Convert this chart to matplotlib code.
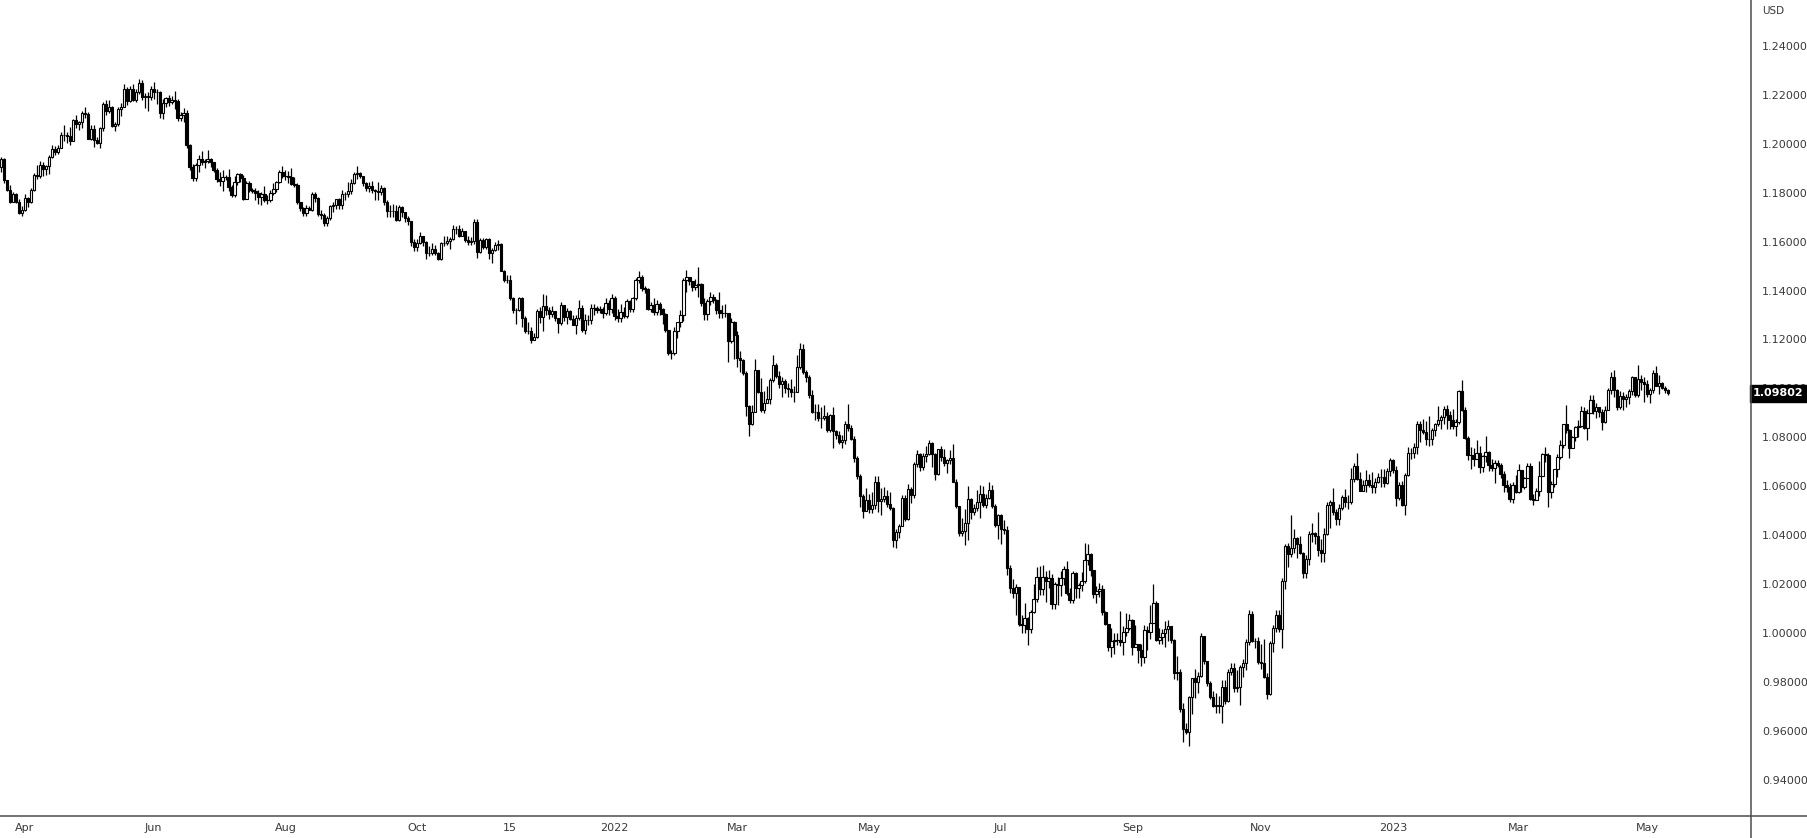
import numpy as np
import pandas as pd
import matplotlib
matplotlib.use('Agg')
import matplotlib.pyplot as plt
from matplotlib.lines import Line2D

# EUR/USD daily candles, weekdays 22 Mar 2021 .. 10 May 2023
start_date = '2021-03-22'
end_date = '2023-05-10'
first_open = 1.1904

close_px = [
    1.1938, 1.1852, 1.1812, 1.1763, 1.1795, 1.1764, 1.1718, 1.1730,  # Mar 21
    1.1778, 1.1762, 1.1813, 1.1873, 1.1870, 1.1915, 1.1899, 1.1911, 1.1947, 1.1981, 1.1966,
    1.1983, 1.2037, 1.2035, 1.2034, 1.2013, 1.2097, 1.2080, 1.2089, 1.2126, 1.2124, 1.2020,  # Apr
    1.2061, 1.2014, 1.2004, 1.2067, 1.2165, 1.2133, 1.2149, 1.2075, 1.2080, 1.2144, 1.2152,
    1.2223, 1.2175, 1.2226, 1.2179, 1.2213, 1.2250, 1.2193, 1.2194, 1.2193, 1.2226,  # May
    1.2213, 1.2212, 1.2128, 1.2166, 1.2189, 1.2173, 1.2178, 1.2174, 1.2107, 1.2120, 1.2125,
    1.1996, 1.1907, 1.1859, 1.1914, 1.1940, 1.1926, 1.1930, 1.1937, 1.1925, 1.1894, 1.1857,  # Jun
    1.1849, 1.1865, 1.1866, 1.1823, 1.1791, 1.1845, 1.1875, 1.1861, 1.1776, 1.1838, 1.1812,
    1.1807, 1.1800, 1.1782, 1.1794, 1.1771, 1.1771, 1.1801, 1.1815, 1.1843, 1.1887, 1.1870,  # Jul
    1.1870, 1.1866, 1.1836, 1.1833, 1.1761, 1.1736, 1.1718, 1.1739, 1.1729, 1.1795, 1.1779,
    1.1712, 1.1710, 1.1676, 1.1697, 1.1745, 1.1752, 1.1773, 1.1750, 1.1794, 1.1796, 1.1808,  # Aug
    1.1838, 1.1875, 1.1880, 1.1870, 1.1838, 1.1818, 1.1826, 1.1813, 1.1806, 1.1804, 1.1818,
    1.1764, 1.1725, 1.1727, 1.1724, 1.1689, 1.1740, 1.1720, 1.1696, 1.1683, 1.1597, 1.1579,  # Sep
    1.1595, 1.1622, 1.1597, 1.1553, 1.1553, 1.1569, 1.1552, 1.1528, 1.1594, 1.1595, 1.1601,
    1.1609, 1.1653, 1.1653, 1.1623, 1.1644, 1.1608, 1.1599, 1.1604, 1.1681, 1.1558,  # Oct
    1.1606, 1.1580, 1.1613, 1.1554, 1.1567, 1.1587, 1.1591, 1.1480, 1.1445, 1.1445, 1.1369,
    1.1319, 1.1321, 1.1371, 1.1288, 1.1236, 1.1234, 1.1197, 1.1209, 1.1317, 1.1292, 1.1337,  # Nov
    1.1321, 1.1303, 1.1315, 1.1286, 1.1266, 1.1343, 1.1291, 1.1318, 1.1284, 1.1258, 1.1287, 1.1330,
    1.1238, 1.1280, 1.1279, 1.1330, 1.1327, 1.1320, 1.1326, 1.1310, 1.1350, 1.1325, 1.1370,  # Dec
    1.1297, 1.1287, 1.1312, 1.1297, 1.1359, 1.1326, 1.1368, 1.1442, 1.1455, 1.1412, 1.1406,
    1.1324, 1.1343, 1.1311, 1.1345, 1.1324, 1.1303, 1.1239, 1.1144, 1.1146, 1.1235,  # Jan 22
    1.1271, 1.1301, 1.1442, 1.1455, 1.1440, 1.1414, 1.1424, 1.1426, 1.1348, 1.1306,
    1.1357, 1.1374, 1.1360, 1.1322, 1.1308, 1.1308, 1.1307, 1.1195, 1.1271, 1.1218,  # Feb
    1.1124, 1.1117, 1.1063, 1.0927, 1.0854, 1.0903, 1.1075, 1.0985, 1.0912, 1.0940, 1.0956, 1.1036,
    1.1094, 1.1050, 1.1016, 1.1030, 1.1003, 1.0997, 1.0984, 1.0985, 1.1087, 1.1159, 1.1067,  # Mar
    1.1046, 1.0971, 1.0905, 1.0902, 1.0878, 1.0877, 1.0888, 1.0829, 1.0889, 1.0827, 1.0809,
    1.0781, 1.0788, 1.0853, 1.0836, 1.0794, 1.0714, 1.0640, 1.0558, 1.0497, 1.0545,  # Apr
    1.0506, 1.0524, 1.0618, 1.0540, 1.0548, 1.0561, 1.0529, 1.0512, 1.0378, 1.0411, 1.0435,
    1.0550, 1.0465, 1.0587, 1.0562, 1.0690, 1.0733, 1.0678, 1.0725, 1.0733, 1.0778, 1.0733,  # May
    1.0648, 1.0750, 1.0720, 1.0696, 1.0706, 1.0716, 1.0615, 1.0518, 1.0407, 1.0416, 1.0448,
    1.0546, 1.0496, 1.0510, 1.0534, 1.0567, 1.0522, 1.0553, 1.0583, 1.0518, 1.0443, 1.0484,  # Jun
    1.0426, 1.0422, 1.0266, 1.0183, 1.0162, 1.0186, 1.0037, 1.0034, 1.0062, 1.0017, 1.0084,
    1.0140, 1.0227, 1.0180, 1.0229, 1.0212, 1.0223, 1.0118, 1.0200, 1.0196, 1.0224,  # Jul
    1.0260, 1.0164, 1.0133, 1.0245, 1.0183, 1.0197, 1.0211, 1.0297, 1.0322, 1.0259, 1.0160, 1.0170,
    1.0178, 1.0086, 1.0036, 0.9942, 0.9967, 0.9969, 0.9972, 0.9964, 1.0004, 1.0020, 1.0054,  # Aug
    0.9944, 0.9954, 0.9928, 0.9902, 1.0012, 1.0002, 1.0041, 1.0121, 0.9969, 0.9981, 0.9999,
    1.0016, 1.0026, 0.9970, 0.9837, 0.9838, 0.9689, 0.9607, 0.9593, 0.9737, 0.9815, 0.9800,  # Sep
    0.9823, 0.9986, 0.9883, 0.9794, 0.9739, 0.9701, 0.9706, 0.9702, 0.9779, 0.9722, 0.9839,
    0.9857, 0.9774, 0.9780, 0.9862, 0.9878, 0.9963, 1.0079, 0.9966, 0.9965, 0.9882,  # Oct
    0.9877, 0.9818, 0.9750, 0.9959, 1.0020, 1.0073, 1.0014, 1.0210, 1.0356, 1.0323, 1.0349,
    1.0389, 1.0364, 1.0325, 1.0244, 1.0303, 1.0405, 1.0408, 1.0398, 1.0337, 1.0328, 1.0406,  # Nov
    1.0523, 1.0535, 1.0493, 1.0467, 1.0509, 1.0555, 1.0537, 1.0537, 1.0630, 1.0682, 1.0629,
    1.0582, 1.0605, 1.0625, 1.0603, 1.0596, 1.0618, 1.0636, 1.0639, 1.0612, 1.0660, 1.0705,  # Dec
    1.0668, 1.0551, 1.0605, 1.0521, 1.0644, 1.0734, 1.0734, 1.0762, 1.0853, 1.0831, 1.0821,
    1.0791, 1.0794, 1.0830, 1.0855, 1.0870, 1.0884, 1.0916, 1.0890, 1.0870, 1.0848, 1.0863,  # Jan 23
    1.0990, 1.0911, 1.0795, 1.0727, 1.0728, 1.0713, 1.0737, 1.0679, 1.0724, 1.0739,
    1.0688, 1.0673, 1.0695, 1.0687, 1.0650, 1.0604, 1.0595, 1.0546, 1.0606, 1.0576,  # Feb
    1.0665, 1.0598, 1.0635, 1.0681, 1.0549, 1.0545, 1.0580, 1.0640, 1.0731, 1.0728, 1.0578, 1.0609,
    1.0669, 1.0718, 1.0770, 1.0853, 1.0830, 1.0758, 1.0800, 1.0843, 1.0844, 1.0906, 1.0839,  # Mar
    1.0901, 1.0954, 1.0907, 1.0922, 1.0902, 1.0862, 1.0912, 1.0993, 1.1048, 1.0993,
    1.0925, 1.0970, 1.0956, 1.0963, 1.0991, 1.1045, 1.0973, 1.1039, 1.1028, 1.1017,  # Apr
    1.0975, 1.0995, 1.1064, 1.1011, 1.1020, 1.1000, 1.0993, 1.09802,  # May
]

high_px = [
    1.1945, 1.1942, 1.1851, 1.1833, 1.1802, 1.1800, 1.1776, 1.1747,
    1.1795, 1.1783, 1.1820, 1.1880, 1.1914, 1.1928, 1.1926, 1.1914, 1.1954, 1.1995, 1.1993,
    1.1995, 1.2048, 1.2079, 1.2049, 1.2070, 1.2100, 1.2117, 1.2095, 1.2136, 1.2150, 1.2129,
    1.2077, 1.2076, 1.2030, 1.2071, 1.2172, 1.2181, 1.2181, 1.2153, 1.2088, 1.2150, 1.2167,
    1.2245, 1.2234, 1.2236, 1.2244, 1.2225, 1.2266, 1.2262, 1.2208, 1.2211, 1.2235,
    1.2254, 1.2223, 1.2216, 1.2185, 1.2191, 1.2199, 1.2195, 1.2218, 1.2183, 1.2131, 1.2145,
    1.2140, 1.1998, 1.1918, 1.1922, 1.1955, 1.1970, 1.1939, 1.1975, 1.1942, 1.1926, 1.1900,
    1.1885, 1.1895, 1.1874, 1.1896, 1.1833, 1.1868, 1.1880, 1.1880, 1.1873, 1.1849, 1.1850,
    1.1820, 1.1819, 1.1810, 1.1804, 1.1829, 1.1790, 1.1810, 1.1840, 1.1850, 1.1895, 1.1909,
    1.1892, 1.1890, 1.1900, 1.1864, 1.1842, 1.1764, 1.1741, 1.1748, 1.1745, 1.1805, 1.1805,
    1.1781, 1.1729, 1.1719, 1.1704, 1.1750, 1.1764, 1.1774, 1.1780, 1.1810, 1.1802, 1.1846,
    1.1857, 1.1885, 1.1909, 1.1883, 1.1870, 1.1845, 1.1844, 1.1849, 1.1815, 1.1845, 1.1830,
    1.1822, 1.1772, 1.1750, 1.1755, 1.1750, 1.1752, 1.1746, 1.1722, 1.1704, 1.1686, 1.1609,
    1.1611, 1.1640, 1.1625, 1.1603, 1.1584, 1.1593, 1.1586, 1.1557, 1.1600, 1.1624, 1.1624,
    1.1620, 1.1670, 1.1665, 1.1668, 1.1654, 1.1640, 1.1624, 1.1620, 1.1692, 1.1692,
    1.1617, 1.1616, 1.1616, 1.1617, 1.1574, 1.1597, 1.1607, 1.1593, 1.1483, 1.1465, 1.1465,
    1.1375, 1.1330, 1.1373, 1.1375, 1.1294, 1.1270, 1.1249, 1.1228, 1.1324, 1.1334, 1.1384,
    1.1383, 1.1333, 1.1336, 1.1308, 1.1289, 1.1355, 1.1341, 1.1329, 1.1321, 1.1300, 1.1299, 1.1360,
    1.1343, 1.1303, 1.1300, 1.1345, 1.1345, 1.1338, 1.1335, 1.1331, 1.1370, 1.1361, 1.1386,
    1.1376, 1.1323, 1.1346, 1.1331, 1.1364, 1.1361, 1.1374, 1.1451, 1.1482, 1.1465, 1.1420,
    1.1409, 1.1353, 1.1370, 1.1363, 1.1352, 1.1330, 1.1310, 1.1238, 1.1155, 1.1250,
    1.1272, 1.1320, 1.1451, 1.1484, 1.1450, 1.1441, 1.1448, 1.1495, 1.1431, 1.1369,
    1.1365, 1.1396, 1.1384, 1.1366, 1.1395, 1.1340, 1.1345, 1.1274, 1.1287, 1.1274,
    1.1234, 1.1153, 1.1122, 1.1070, 1.0933, 1.0930, 1.1121, 1.1076, 1.1044, 1.0990, 1.1009, 1.1043,
    1.1137, 1.1103, 1.1070, 1.1046, 1.1040, 1.1020, 1.1040, 1.1010, 1.1137, 1.1185, 1.1183,
    1.1076, 1.1053, 1.0994, 1.0935, 1.0938, 1.0922, 1.0931, 1.0904, 1.0896, 1.0924, 1.0831,
    1.0826, 1.0808, 1.0866, 1.0936, 1.0851, 1.0804, 1.0724, 1.0650, 1.0567, 1.0593,
    1.0567, 1.0578, 1.0642, 1.0641, 1.0594, 1.0598, 1.0583, 1.0577, 1.0514, 1.0423, 1.0445,
    1.0564, 1.0565, 1.0607, 1.0596, 1.0698, 1.0748, 1.0736, 1.0734, 1.0765, 1.0787, 1.0782,
    1.0737, 1.0752, 1.0765, 1.0752, 1.0710, 1.0748, 1.0774, 1.0631, 1.0518, 1.0470, 1.0506,
    1.0601, 1.0550, 1.0528, 1.0583, 1.0606, 1.0600, 1.0568, 1.0615, 1.0606, 1.0526, 1.0488,
    1.0487, 1.0461, 1.0437, 1.0276, 1.0220, 1.0200, 1.0161, 1.0073, 1.0121, 1.0064, 1.0093,
    1.0200, 1.0269, 1.0275, 1.0278, 1.0254, 1.0258, 1.0239, 1.0208, 1.0230, 1.0254,
    1.0274, 1.0294, 1.0185, 1.0254, 1.0249, 1.0202, 1.0248, 1.0368, 1.0364, 1.0328, 1.0254, 1.0190,
    1.0202, 1.0194, 1.0091, 1.0038, 1.0018, 0.9999, 1.0000, 1.0090, 1.0027, 1.0080, 1.0079,
    1.0058, 1.0033, 0.9939, 0.9953, 1.0031, 1.0029, 1.0112, 1.0198, 1.0130, 1.0018, 1.0015,
    1.0048, 1.0051, 1.0019, 0.9976, 0.9907, 0.9852, 0.9712, 0.9632, 0.9740, 0.9816, 0.9853,
    0.9838, 0.9999, 0.9977, 0.9882, 0.9803, 0.9764, 0.9755, 0.9740, 0.9809, 0.9809, 0.9853,
    0.9875, 0.9876, 0.9847, 0.9870, 0.9893, 0.9976, 1.0094, 1.0089, 0.9978, 0.9983,
    0.9953, 0.9976, 0.9836, 0.9965, 1.0032, 1.0095, 1.0094, 1.0223, 1.0364, 1.0366, 1.0481,
    1.0425, 1.0392, 1.0398, 1.0331, 1.0317, 1.0416, 1.0449, 1.0413, 1.0496, 1.0385, 1.0430,
    1.0534, 1.0545, 1.0594, 1.0505, 1.0527, 1.0565, 1.0588, 1.0564, 1.0673, 1.0695, 1.0736,
    1.0659, 1.0625, 1.0666, 1.0650, 1.0657, 1.0635, 1.0652, 1.0672, 1.0672, 1.0675, 1.0714,
    1.0711, 1.0684, 1.0618, 1.0623, 1.0655, 1.0760, 1.0755, 1.0776, 1.0868, 1.0867, 1.0874,
    1.0866, 1.0888, 1.0837, 1.0858, 1.0927, 1.0890, 1.0929, 1.0930, 1.0906, 1.0914, 1.0874,
    1.0992, 1.1033, 1.0922, 1.0804, 1.0759, 1.0756, 1.0790, 1.0764, 1.0728, 1.0805,
    1.0742, 1.0712, 1.0706, 1.0705, 1.0693, 1.0662, 1.0625, 1.0613, 1.0615, 1.0645,
    1.0691, 1.0666, 1.0639, 1.0694, 1.0693, 1.0567, 1.0593, 1.0701, 1.0736, 1.0760, 1.0737, 1.0619,
    1.0670, 1.0731, 1.0787, 1.0856, 1.0930, 1.0834, 1.0807, 1.0847, 1.0869, 1.0927, 1.0925,
    1.0917, 1.0973, 1.0971, 1.0942, 1.0925, 1.0915, 1.0928, 1.1000, 1.1065, 1.1076,
    1.0997, 1.0990, 1.0985, 1.0977, 1.0999, 1.1051, 1.1048, 1.1095, 1.1056, 1.1048,
    1.1034, 1.1002, 1.1077, 1.1092, 1.1054, 1.1024, 1.1010, 1.0999,
]

low_px = [
    1.1886, 1.1841, 1.1808, 1.1760, 1.1761, 1.1760, 1.1712, 1.1704,
    1.1725, 1.1742, 1.1757, 1.1806, 1.1858, 1.1862, 1.1869, 1.1872, 1.1878, 1.1943, 1.1954,
    1.1958, 1.1985, 1.2013, 1.2003, 1.1995, 1.2014, 1.2064, 1.2057, 1.2066, 1.2104, 1.2018,
    1.2015, 1.1986, 1.1999, 1.1985, 1.2052, 1.2119, 1.2125, 1.2068, 1.2051, 1.2074, 1.2115,
    1.2150, 1.2161, 1.2173, 1.2177, 1.2170, 1.2206, 1.2178, 1.2148, 1.2133, 1.2180,
    1.2183, 1.2163, 1.2104, 1.2103, 1.2151, 1.2155, 1.2164, 1.2144, 1.2093, 1.2093, 1.2090,
    1.1985, 1.1892, 1.1847, 1.1847, 1.1887, 1.1912, 1.1902, 1.1922, 1.1904, 1.1884, 1.1846,
    1.1827, 1.1807, 1.1852, 1.1806, 1.1781, 1.1782, 1.1830, 1.1844, 1.1771, 1.1773, 1.1805,
    1.1798, 1.1772, 1.1756, 1.1752, 1.1761, 1.1755, 1.1761, 1.1790, 1.1804, 1.1838, 1.1862,
    1.1852, 1.1839, 1.1831, 1.1824, 1.1753, 1.1726, 1.1707, 1.1705, 1.1728, 1.1725, 1.1761,
    1.1705, 1.1692, 1.1665, 1.1664, 1.1690, 1.1723, 1.1733, 1.1735, 1.1734, 1.1770, 1.1783,
    1.1794, 1.1836, 1.1856, 1.1860, 1.1826, 1.1806, 1.1804, 1.1800, 1.1770, 1.1771, 1.1789,
    1.1750, 1.1700, 1.1701, 1.1702, 1.1683, 1.1685, 1.1701, 1.1681, 1.1668, 1.1584, 1.1563,
    1.1562, 1.1590, 1.1584, 1.1529, 1.1543, 1.1546, 1.1546, 1.1524, 1.1527, 1.1583, 1.1586,
    1.1571, 1.1606, 1.1631, 1.1619, 1.1622, 1.1597, 1.1585, 1.1585, 1.1590, 1.1535,
    1.1555, 1.1570, 1.1570, 1.1530, 1.1513, 1.1561, 1.1568, 1.1480, 1.1434, 1.1432, 1.1360,
    1.1309, 1.1264, 1.1317, 1.1251, 1.1226, 1.1221, 1.1186, 1.1196, 1.1206, 1.1266, 1.1235,
    1.1301, 1.1285, 1.1290, 1.1274, 1.1227, 1.1259, 1.1277, 1.1263, 1.1280, 1.1262, 1.1222, 1.1281,
    1.1230, 1.1222, 1.1260, 1.1263, 1.1302, 1.1309, 1.1308, 1.1288, 1.1299, 1.1299, 1.1310,
    1.1280, 1.1272, 1.1273, 1.1286, 1.1287, 1.1313, 1.1313, 1.1362, 1.1432, 1.1399, 1.1391,
    1.1321, 1.1313, 1.1300, 1.1301, 1.1300, 1.1264, 1.1230, 1.1136, 1.1121, 1.1138,
    1.1206, 1.1250, 1.1274, 1.1396, 1.1421, 1.1398, 1.1402, 1.1374, 1.1336, 1.1281,
    1.1279, 1.1343, 1.1350, 1.1306, 1.1287, 1.1288, 1.1291, 1.1106, 1.1185, 1.1121,
    1.1089, 1.1068, 1.1056, 1.0886, 1.0806, 1.0851, 1.0903, 1.0979, 1.0902, 1.0900, 1.0939, 1.0938,
    1.1027, 1.1041, 1.1003, 1.0963, 1.0979, 1.0965, 1.0964, 1.0945, 1.0994, 1.1078, 1.1059,
    1.1027, 1.0960, 1.0901, 1.0872, 1.0865, 1.0837, 1.0872, 1.0822, 1.0821, 1.0757, 1.0792,
    1.0773, 1.0757, 1.0771, 1.0827, 1.0787, 1.0700, 1.0628, 1.0516, 1.0470, 1.0500,
    1.0490, 1.0491, 1.0506, 1.0493, 1.0483, 1.0536, 1.0515, 1.0503, 1.0350, 1.0349, 1.0389,
    1.0438, 1.0459, 1.0460, 1.0532, 1.0553, 1.0679, 1.0663, 1.0664, 1.0700, 1.0726, 1.0680,
    1.0627, 1.0645, 1.0702, 1.0684, 1.0653, 1.0692, 1.0615, 1.0509, 1.0397, 1.0397, 1.0359,
    1.0381, 1.0467, 1.0482, 1.0500, 1.0470, 1.0514, 1.0510, 1.0549, 1.0509, 1.0431, 1.0382,
    1.0365, 1.0406, 1.0236, 1.0161, 1.0144, 1.0072, 1.0029, 0.9998, 0.9999, 0.9952, 1.0000,
    1.0081, 1.0127, 1.0154, 1.0153, 1.0126, 1.0185, 1.0096, 1.0096, 1.0113, 1.0150,
    1.0197, 1.0156, 1.0123, 1.0123, 1.0142, 1.0142, 1.0173, 1.0202, 1.0276, 1.0234, 1.0142, 1.0121,
    1.0147, 1.0074, 1.0031, 0.9926, 0.9901, 0.9912, 0.9951, 0.9945, 0.9909, 0.9988, 1.0013,
    0.9910, 0.9942, 0.9877, 0.9864, 0.9876, 0.9930, 0.9974, 1.0041, 0.9967, 0.9954, 0.9956,
    0.9944, 0.9966, 0.9957, 0.9812, 0.9806, 0.9675, 0.9554, 0.9587, 0.9536, 0.9669, 0.9735,
    0.9752, 0.9818, 0.9872, 0.9783, 0.9731, 0.9695, 0.9670, 0.9671, 0.9632, 0.9710, 0.9717,
    0.9829, 0.9756, 0.9757, 0.9705, 0.9821, 0.9849, 0.9950, 0.9962, 0.9939, 0.9872,
    0.9853, 0.9817, 0.9730, 0.9747, 0.9921, 1.0005, 1.0002, 0.9936, 1.0181, 1.0271, 1.0310,
    1.0326, 1.0306, 1.0322, 1.0223, 1.0226, 1.0279, 1.0373, 1.0362, 1.0316, 1.0290, 1.0290,
    1.0401, 1.0429, 1.0481, 1.0443, 1.0443, 1.0501, 1.0513, 1.0505, 1.0526, 1.0615, 1.0626,
    1.0582, 1.0583, 1.0575, 1.0595, 1.0573, 1.0571, 1.0612, 1.0597, 1.0598, 1.0610, 1.0643,
    1.0654, 1.0520, 1.0545, 1.0519, 1.0483, 1.0642, 1.0712, 1.0716, 1.0732, 1.0779, 1.0812,
    1.0767, 1.0766, 1.0767, 1.0806, 1.0845, 1.0834, 1.0855, 1.0835, 1.0835, 1.0833, 1.0805,
    1.0856, 1.0909, 1.0794, 1.0707, 1.0669, 1.0684, 1.0712, 1.0655, 1.0658, 1.0699,
    1.0662, 1.0660, 1.0613, 1.0677, 1.0632, 1.0578, 1.0577, 1.0536, 1.0533, 1.0572,
    1.0573, 1.0578, 1.0588, 1.0634, 1.0545, 1.0524, 1.0544, 1.0560, 1.0642, 1.0698, 1.0516, 1.0551,
    1.0596, 1.0637, 1.0709, 1.0757, 1.0819, 1.0714, 1.0761, 1.0786, 1.0800, 1.0840, 1.0834,
    1.0789, 1.0902, 1.0894, 1.0880, 1.0883, 1.0830, 1.0860, 1.0910, 1.0977, 1.0966,
    1.0910, 1.0914, 1.0913, 1.0924, 1.0936, 1.0974, 1.0963, 1.0965, 1.0994, 1.0945,
    1.0966, 1.0942, 1.0983, 1.1008, 1.0977, 1.0996, 1.0980, 1.0973,
]

price_ticks = [0.94, 0.96, 0.98, 1.00, 1.02, 1.04, 1.06, 1.08, 1.10, 1.12, 1.14, 1.16, 1.18, 1.20, 1.22, 1.24]
tick_dates = ['2021-04-01', '2021-06-01', '2021-08-02', '2021-10-01', '2021-11-15', '2022-01-03',
              '2022-03-01', '2022-05-02', '2022-07-01', '2022-09-01', '2022-11-01', '2023-01-02',
              '2023-03-01', '2023-05-01']
tick_labels = ['Apr', 'Jun', 'Aug', 'Oct', '15', '2022', 'Mar', 'May', 'Jul', 'Sep', 'Nov', '2023', 'Mar', 'May']
last_price = 1.09802

dates = pd.bdate_range(start_date, end_date)
close = np.array(close_px)
high = np.array(high_px)
low = np.array(low_px)
assert len(dates) == len(close) == len(high) == len(low), (len(dates), len(close), len(high), len(low))

opn = np.r_[first_open, close[:-1]]
high = np.maximum(high, np.maximum(opn, close))
low = np.minimum(low, np.minimum(opn, close))
x = np.arange(len(close))
up = close >= opn

W, H = 1808, 838
fig = plt.figure(figsize=(W / 100, H / 100), dpi=100, facecolor='white')
ax_bottom_px = 816
ax_right_px = 1751
ax = fig.add_axes([0, (H - ax_bottom_px) / H, ax_right_px / W, ax_bottom_px / H])

ax.vlines(x, low, high, color='black', lw=0.9, zorder=1)
ax.bar(x[up], (close - opn)[up], bottom=opn[up], width=0.78,
       facecolor='white', edgecolor='black', lw=0.8, zorder=2)
ax.bar(x[~up], (opn - close)[~up], bottom=close[~up], width=0.78,
       facecolor='black', edgecolor='black', lw=0.8, zorder=2)

# pixel mapping: bar spacing ~2.993 px, 1.24 at y=46.1 px, 0.01 = 24.45 px
ax.set_xlim(-0.351, 584.68)
ax.set_ylim(0.92507, 1.25886)

for s in ax.spines.values():
    s.set_visible(False)

txt_col = '#3a3a3a'
ax.yaxis.tick_right()
ax.set_yticks(price_ticks)
ax.set_yticklabels(['%.5f' % p for p in price_ticks])
ax.tick_params(axis='y', length=0, pad=8, labelsize=8, labelcolor=txt_col)

xt = dates.searchsorted(pd.to_datetime(tick_dates))
ax.set_xticks(xt)
ax.set_xticklabels(tick_labels)
ax.tick_params(axis='x', length=0, pad=5, labelsize=8, labelcolor=txt_col)

# frame lines across the whole figure
line_col = '#4d4d4d'
fig.add_artist(Line2D([0, 1], [(H - ax_bottom_px) / H] * 2, transform=fig.transFigure,
                      color=line_col, lw=1.1))
fig.add_artist(Line2D([ax_right_px / W] * 2, [0, 1], transform=fig.transFigure,
                      color=line_col, lw=1.1))

fig.text(1762 / W, 1 - 11 / H, 'USD', ha='left', va='center', fontsize=7.5, color=txt_col)

# last price marker on the price scale (covers the 1.10000 label as in the reference)
ax.text(1778.5 / ax_right_px, last_price, '%.5f' % last_price, transform=ax.get_yaxis_transform(),
        ha='center', va='center', fontsize=8, color='white', fontweight='bold', zorder=10,
        bbox=dict(boxstyle='square,pad=0.32', fc='black', ec='black'))

fig.savefig('out.png', dpi=100, facecolor='white')
